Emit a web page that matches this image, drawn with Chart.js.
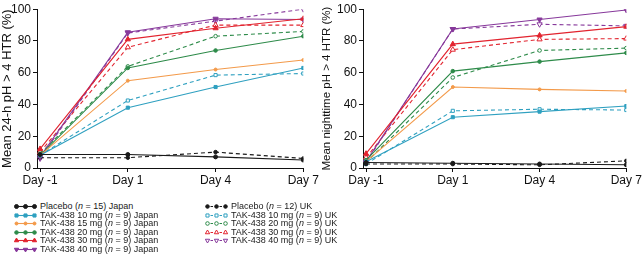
<!DOCTYPE html>
<html>
<head>
<meta charset="utf-8">
<script src="https://cdn.jsdelivr.net/npm/chart.js@4"></script>
<style>
body{margin:0;background:#fff;width:643px;height:273px;position:relative;overflow:hidden;font-family:'Liberation Sans',Arial,sans-serif}
canvas.plot{position:absolute;top:0}
.item{position:absolute;height:9px;font-size:9px;line-height:9px;white-space:nowrap;color:#1a1a1a}
.item canvas{vertical-align:top;margin-right:3px}
</style>
</head>
<body>
<canvas class="plot" id="left" width="320" height="192" style="left:0"></canvas>
<canvas class="plot" id="right" width="323" height="192" style="left:320px"></canvas>
<div id="legend"></div>
<script>
// categories
const days = ['Day -1', 'Day 1', 'Day 4', 'Day 7']

// series labels (Japan first column, UK second column)
const names = [
  'Placebo (<i>n</i> = 15) Japan',
  'TAK-438 10 mg (<i>n</i> = 9) Japan',
  'TAK-438 15 mg (<i>n</i> = 9) Japan',
  'TAK-438 20 mg (<i>n</i> = 9) Japan',
  'TAK-438 30 mg (<i>n</i> = 9) Japan',
  'TAK-438 40 mg (<i>n</i> = 9) Japan',
  'Placebo (<i>n</i> = 12) UK',
  'TAK-438 10 mg (<i>n</i> = 9) UK',
  'TAK-438 20 mg (<i>n</i> = 9) UK',
  'TAK-438 30 mg (<i>n</i> = 9) UK',
  'TAK-438 40 mg (<i>n</i> = 9) UK'
]

// Mean 24-h pH > 4 HTR (%)
const h24PlaceboJp = [8.5, 8.5, 7, 5]
const h24Jp10 = [8, 38, 51, 63]
const h24Jp15 = [8, 55, 62, 68]
const h24Jp20 = [8, 63, 74, 83]
const h24Jp30 = [12, 81, 88, 94]
const h24Jp40 = [7, 85.5, 94, 93.5]
const h24PlaceboUk = [6.5, 6.5, 10, 6]
const h24Uk10 = [8, 42.5, 58.5, 59.5]
const h24Uk20 = [9, 64, 83, 86]
const h24Uk30 = [10, 76, 90, 90]
const h24Uk40 = [6, 85, 92.5, 100]

// Mean nighttime pH > 4 HTR (%)
const nightPlaceboJp = [3.5, 3, 2.5, 2]
const nightJp10 = [4, 32, 35.5, 39]
const nightJp15 = [4, 51, 49.5, 48.5]
const nightJp20 = [5, 61, 67, 72.5]
const nightJp30 = [9, 78, 83.5, 89]
const nightJp40 = [4, 87.5, 93.5, 99.5]
const nightPlaceboUk = [2.5, 2.5, 2, 4.5]
const nightUk10 = [2.5, 36, 37, 36.5]
const nightUk20 = [3.5, 57, 74, 75.5]
const nightUk30 = [6.5, 74.5, 81, 81.5]
const nightUk40 = [3.5, 87.5, 90.5, 89.5]

const yTicks = [0, 20, 40, 60, 80, 100]

// styles per series
const styles = [
  { color: '#1a1a1a', point: 'circle', r: 2, open: false, dash: [] },
  { color: '#2fa0c0', point: 'rect', r: 2.2, open: false, dash: [] },
  { color: '#f39a4a', point: 'circle', r: 1.5, open: false, dash: [] },
  { color: '#2e8b4a', point: 'circle', r: 1.8, open: false, dash: [] },
  { color: '#e2242f', point: 'triangle', r: 3, open: false, dash: [] },
  { color: '#87399b', point: 'triangle', r: 3, open: false, dash: [], rot: 180 },
  { color: '#1a1a1a', point: 'circle', r: 1.8, open: false, dash: [4, 3] },
  { color: '#2fa0c0', point: 'rect', r: 2.2, open: true, dash: [4, 3] },
  { color: '#2e8b4a', point: 'circle', r: 1.8, open: true, dash: [4, 3] },
  { color: '#e2242f', point: 'triangle', r: 3, open: true, dash: [4, 3] },
  { color: '#87399b', point: 'triangle', r: 3, open: true, dash: [4, 3], rot: 180 }
]

const h24 = [h24PlaceboJp, h24Jp10, h24Jp15, h24Jp20, h24Jp30, h24Jp40, h24PlaceboUk, h24Uk10, h24Uk20, h24Uk30, h24Uk40]
const night = [nightPlaceboJp, nightJp10, nightJp15, nightJp20, nightJp30, nightJp40, nightPlaceboUk, nightUk10, nightUk20, nightUk30, nightUk40]

const ink = '#111'

function makeChart(id, series, title, yWidth, titleSize) {
  const datasets = series.map((vals, i) => {
    const s = styles[i]
    return {
      label: names[i],
      data: vals.map((v, k) => ({ x: k, y: v })),
      borderColor: s.color,
      borderWidth: 1.1,
      borderDash: s.dash,
      pointStyle: s.point,
      pointRadius: s.r,
      pointRotation: s.rot || 0,
      pointBackgroundColor: s.open ? '#fff' : s.color,
      pointBorderColor: s.color,
      pointBorderWidth: 1,
      tension: 0
    }
  })
  return new Chart(document.getElementById(id), {
    type: 'line',
    data: { datasets },
    options: {
      responsive: false,
      animation: false,
      layout: { padding: { top: 7, right: 0 } },
      plugins: { legend: { display: false }, tooltip: { enabled: false } },
      scales: {
        x: {
          type: 'linear',
          min: -0.035,
          max: 3,
          afterBuildTicks: s => { s.ticks = days.map((d, i) => ({ value: i })) },
          afterFit: s => { s.height = 24 },
          ticks: {
            callback: v => days[v],
            color: ink,
            font: { size: 12, family: "'Liberation Sans', Arial, sans-serif" },
            padding: 1,
            maxRotation: 0,
            autoSkip: false
          },
          grid: { drawOnChartArea: false, drawTicks: true, tickLength: 4, color: ink },
          border: { color: ink }
        },
        y: {
          min: 0,
          max: 100,
          afterBuildTicks: s => { s.ticks = yTicks.map(v => ({ value: v })) },
          afterFit: s => { s.width = yWidth },
          ticks: {
            color: ink,
            font: { size: 12, family: "'Liberation Sans', Arial, sans-serif" },
            padding: 2
          },
          grid: { drawOnChartArea: false, drawTicks: true, tickLength: 4, color: ink },
          border: { color: ink },
          title: {
            display: true,
            text: title,
            color: ink,
            font: { size: titleSize, family: "'Liberation Sans', Arial, sans-serif" },
            padding: 0
          }
        }
      }
    }
  })
}

makeChart('left', h24, 'Mean 24-h pH > 4 HTR (%)', 37, 13)
makeChart('right', night, 'Mean nighttime pH > 4 HTR (%)', 43, 11.5)

// legend, built as html with small canvas samples
const legend = document.getElementById('legend')
names.forEach((name, i) => {
  const s = styles[i]
  const col = i < 6 ? 0 : 1
  const row = i < 6 ? i : i - 6
  const item = document.createElement('div')
  item.className = 'item'
  item.style.left = (col ? 205 : 14) + 'px'
  item.style.top = (202 + row * 8.5) + 'px'
  const c = document.createElement('canvas')
  c.width = 23
  c.height = 9
  const g = c.getContext('2d')
  g.strokeStyle = s.color
  g.lineWidth = 1.1
  g.setLineDash(s.dash.length ? [2.5, 2] : [])
  g.beginPath()
  g.moveTo(1, 4.5)
  g.lineTo(22, 4.5)
  g.stroke()
  g.setLineDash([])
  ;[2.5, 11.5, 20.5].forEach(x => {
    g.fillStyle = s.open ? '#fff' : s.color
    g.strokeStyle = s.color
    g.lineWidth = 1
    if (Chart.helpers && Chart.helpers.drawPoint) {
      Chart.helpers.drawPoint(g, { pointStyle: s.point, radius: Math.min(s.r, 2.5), rotation: s.rot || 0, borderWidth: 1 }, x, 4.5)
    } else {
      g.beginPath(); g.arc(x, 4.5, 1.8, 0, Math.PI * 2); g.fill(); g.stroke()
    }
  })
  item.appendChild(c)
  const t = document.createElement('span')
  t.innerHTML = name
  item.appendChild(t)
  legend.appendChild(item)
})
</script>
</body>
</html>
